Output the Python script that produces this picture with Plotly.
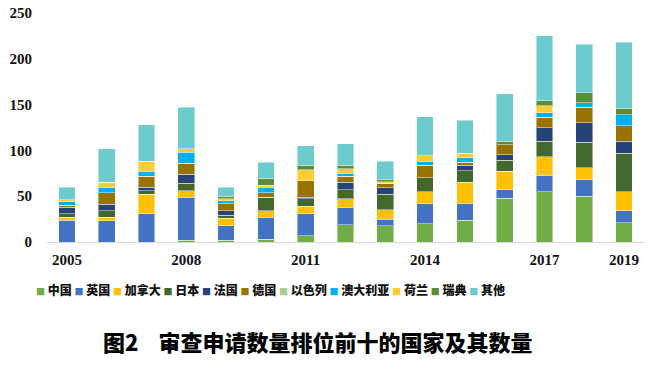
import plotly.graph_objects as go

years = [str(y) for y in range(2005, 2020)]
tick_years = ["2005", "2008", "2011", "2014", "2017", "2019"]

china     = [0, 0, 0, 2, 2, 3, 7, 19, 18, 20, 24, 48, 55, 50, 21]
uk        = [24, 23, 31, 47, 16, 24, 24, 19, 7, 22, 18, 9, 18, 18, 13]
canada    = [3, 4, 21, 7, 8, 7, 8, 9, 10, 13, 23, 20, 20, 13, 21]
japan     = [4, 7, 4, 8, 3, 15, 8, 10, 17, 15, 13, 12, 17, 28, 42]
france    = [7, 7, 4, 10, 5, 0, 2, 8, 7, 0, 6, 6, 15, 21, 13]
germany   = [2, 13, 12, 12, 8, 5, 18, 7, 5, 14, 3, 11, 11, 17, 17]
israel    = [0, 0, 0, 0, 0, 0, 0, 0, 0, 0, 0, 0, 0, 0, 0]
australia = [4, 6, 5, 12, 3, 6, 0, 3, 0, 4, 5, 0, 5, 5, 12]
netherl   = [2, 5, 11, 4, 2, 2, 12, 5, 2, 6, 5, 0, 8, 0, 0]
sweden    = [0, 0, 0, 0, 3, 7, 5, 4, 2, 0, 0, 4, 5, 11, 7]
others    = [14, 37, 40, 45, 10, 18, 21, 23, 20, 43, 36, 52, 71, 53, 72]

names = ["中国", "英国", "加拿大", "日本", "法国", "德国", "以色列", "澳大利亚", "荷兰", "瑞典", "其他"]
series = [china, uk, canada, japan, france, germany, israel, australia, netherl, sweden, others]
colors = ["#70AD47", "#4472C4", "#FFC000", "#43682B", "#264478", "#997300",
          "#A9D18E", "#00B0F0", "#FFCD33", "#5E8C3A", "#6CCBCD"]

fig = go.Figure()
for name, vals, col in zip(names, series, colors):
    fig.add_trace(go.Bar(
        x=years, y=vals, name=name,
        marker=dict(color=col, line=dict(color="rgba(255,255,255,0.45)", width=1)),
    ))

W, H = 658, 385
ml, mr, mt, mb = 47, 14, 13, 143
ph = H - mt - mb
pw = W - ml - mr

def py(ypix):
    return (H - mb - ypix) / ph

def px(xpix):
    return (xpix - ml) / pw

legend_parts = []
for name, col in zip(names, colors):
    legend_parts.append(
        f"<span style='color:{col};font-size:9px'>■</span> {name}"
    )
legend_text = " ".join(legend_parts)

fig.add_annotation(
    text=legend_text, xref="paper", yref="paper",
    x=px(270), y=py(289), xanchor="center", yanchor="middle",
    showarrow=False,
    font=dict(family="Noto Sans CJK SC", size=12, color="#111111", weight=900),
)
fig.add_annotation(
    text="图2    审查申请数量排位前十的国家及其数量", xref="paper", yref="paper",
    x=px(318), y=py(341), xanchor="center", yanchor="middle",
    showarrow=False,
    font=dict(family="Noto Sans CJK SC", size=22, color="#000000", weight=900),
)

fig.update_layout(
    barmode="stack",
    bargap=0.58,
    width=W, height=H,
    margin=dict(l=ml, r=mr, t=mt, b=mb, autoexpand=False),
    plot_bgcolor="white", paper_bgcolor="white",
    showlegend=False,
    font=dict(family="Liberation Serif", color="#111111"),
)
fig.update_xaxes(
    type="category", automargin=False,
    tickvals=tick_years, ticktext=tick_years,
    showline=True, linecolor="#D9D9D9", linewidth=1,
    showgrid=False, ticks="",
    tickfont=dict(family="Liberation Serif", size=15, color="#111111", weight="bold"),
    ticklabelstandoff=4,
)
fig.update_yaxes(
    range=[0, 250], dtick=50, automargin=False,
    showgrid=False, showline=False, zeroline=False, ticks="",
    tickfont=dict(family="Liberation Serif", size=15, color="#111111", weight="bold"),
    ticklabelstandoff=14,
)

fig.write_html(
    "out.html",
    config={"displayModeBar": False},
    post_script="document.body.style.margin='0px';document.body.style.overflow='hidden';",
)
